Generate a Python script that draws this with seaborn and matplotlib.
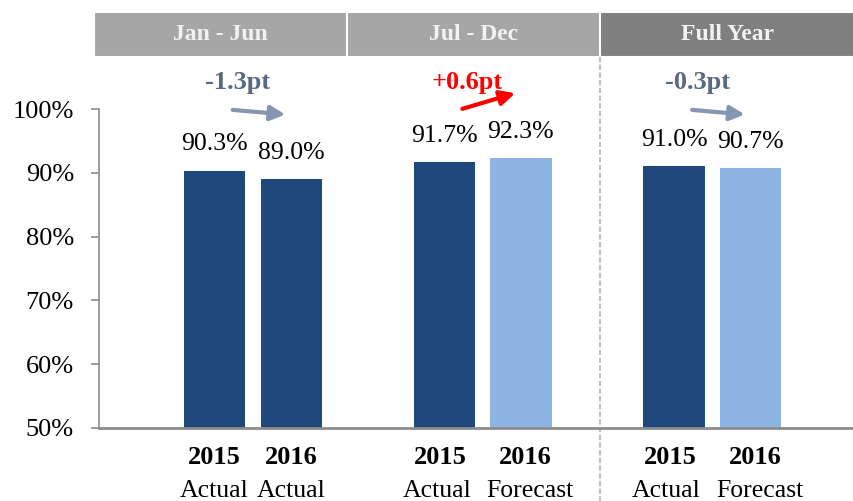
import matplotlib
matplotlib.use("Agg")
import matplotlib.pyplot as plt
import matplotlib.transforms as mtransforms
from matplotlib.patches import Rectangle
import seaborn as sns
import pandas as pd

# Chart data
positions = [0, 1, 3, 4, 6, 7]
values = [90.3, 89.0, 91.7, 92.3, 91.0, 90.7]
years = ["2015", "2016", "2015", "2016", "2015", "2016"]
kinds = ["Actual", "Actual", "Actual", "Forecast", "Actual", "Forecast"]
periods = ["Jan - Jun", "Jul - Dec", "Full Year"]
y_ticks = [50, 60, 70, 80, 90, 100]

df = pd.DataFrame({"pos": positions, "value": values, "year": years, "kind": kinds})

sns.set_style("white")
plt.rcParams["font.family"] = ["Liberation Serif", "DejaVu Serif"]
plt.rcParams["text.color"] = "black"
plt.rcParams["ytick.labelcolor"] = "black"

dark_blue = "#1F497D"
light_blue = "#8DB4E2"
axis_gray = "#8C8C8C"

fig = plt.figure(figsize=(8.54, 5.01), dpi=100)
ax = fig.add_axes([99 / 854, 1 - 428 / 501, 1 - 99 / 854, (428 - 109) / 501])

sns.barplot(data=df, x="pos", y="value", hue="kind", native_scale=True, dodge=False,
            palette={"Actual": dark_blue, "Forecast": light_blue}, width=0.8,
            saturation=1, legend=False, ax=ax, linewidth=0)

ax.set_xlim(-1.51, 8.35)
ax.set_ylim(50, 100)
ax.set_yticks(y_ticks)
ax.set_yticklabels([f"{t}%" for t in y_ticks], fontsize=19, color="black")
ax.set_xticks([])
ax.set_xlabel("")
ax.set_ylabel("")
ax.tick_params(axis="y", length=6, width=1.2, color=axis_gray, direction="out", pad=12, left=True)
for side in ["top", "right"]:
    ax.spines[side].set_visible(False)
ax.spines["left"].set_color(axis_gray)
ax.spines["left"].set_linewidth(1.2)
ax.spines["bottom"].set_color(axis_gray)
ax.spines["bottom"].set_linewidth(2)

# value labels above the bars
for p, v in zip(positions, values):
    ax.annotate(f"{v:.1f}%", (p, v), xytext=(0, 19), textcoords="offset points",
                ha="center", va="center", fontsize=18.5, color="black", annotation_clip=False)

# category labels under the axis (pairs with a forecast are spread a little apart)
trans = mtransforms.blended_transform_factory(ax.transData, ax.transAxes)
for i, (p, yr, k) in enumerate(zip(positions, years, kinds)):
    pair_has_fc = "Forecast" in kinds[i - i % 2: i - i % 2 + 2]
    shift = 0.0
    if pair_has_fc:
        shift = 0.12 if i % 2 else -0.1
    ax.text(p + shift * 0.5, -0.094, yr, transform=trans, ha="center", va="center",
            fontsize=19, fontweight="bold", color="black")
    ax.text(p + shift, -0.196, k, transform=trans, ha="center", va="center", fontsize=18.5,
            color="black")

# change arrows between each pair
for i in range(0, len(values), 2):
    a, b = positions[i], positions[i + 1]
    delta = round(values[i + 1] - values[i], 1)
    up = delta > 0
    col_txt = "#FF0000" if up else "#5A6982"
    col_arr = "#FF0000" if up else "#8496B0"
    y_end = 102.6 if up else 99.1
    ax.annotate("", xy=(b - 0.04, y_end), xytext=(a + 0.2, 99.9),
                arrowprops=dict(arrowstyle="-|>", color=col_arr, lw=3, mutation_scale=22),
                annotation_clip=False)
    ax.text(a + 0.3, 104.1, f"{delta:+.1f}pt", ha="center", va="center",
            fontsize=19, fontweight="bold", color=col_txt, clip_on=False)

# header bands
edges = [-1.573, 1.73, 5.03, 8.36]
band_colors = ["#A6A6A6", "#A6A6A6", "#7F7F7F"]
y0, y1 = (428 - 57) / 319, (428 - 12) / 319
for j, name in enumerate(periods):
    ax.add_patch(Rectangle((edges[j], y0), edges[j + 1] - edges[j], y1 - y0, transform=trans,
                           facecolor=band_colors[j], edgecolor="white", linewidth=1.5,
                           clip_on=False))
    ax.text((edges[j] + edges[j + 1]) / 2, (y0 + y1) / 2, name, transform=trans,
            ha="center", va="center", fontsize=17, fontweight="bold", color="#F2F2F2")

# dashed separator before full year
ax.plot([edges[2], edges[2]], [y0, -0.23], transform=trans, color="#BFBFBF", lw=1.5,
        ls=(0, (2.5, 1.2)), clip_on=False)

fig.savefig("out.png", dpi=100)
